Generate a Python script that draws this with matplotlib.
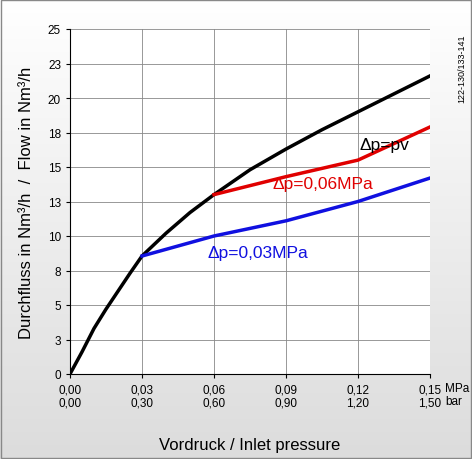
import matplotlib
matplotlib.use("Agg")
import matplotlib.pyplot as plt
import numpy as np

plt.rcParams['font.family'] = ['Liberation Sans', 'DejaVu Sans']

x_black = [0.0, 0.005, 0.01, 0.015, 0.02, 0.025, 0.03, 0.04, 0.05, 0.06, 0.075, 0.09, 0.105, 0.12, 0.135, 0.15]
y_black = [0.0, 1.6, 3.3, 4.7, 6.0, 7.3, 8.55, 10.2, 11.7, 13.0, 14.8, 16.3, 17.7, 19.0, 20.3, 21.6]
x_red = [0.06, 0.09, 0.12, 0.15]
y_red = [13.0, 14.3, 15.5, 17.9]
x_blue = [0.03, 0.06, 0.09, 0.12, 0.15]
y_blue = [8.55, 10.0, 11.1, 12.5, 14.2]
xticks = [0.0, 0.03, 0.06, 0.09, 0.12, 0.15]
xlabels = ["0,00\n0,00", "0,03\n0,30", "0,06\n0,60", "0,09\n0,90", "0,12\n1,20", "0,15\n1,50"]
yticks = [0, 2.5, 5, 7.5, 10, 12.5, 15, 17.5, 20, 22.5, 25]
ylabels = ["0", "3", "5", "8", "10", "13", "15", "18", "20", "23", "25"]

fig = plt.figure(figsize=(4.72, 4.60), dpi=100)
bg = fig.add_axes([0, 0, 1, 1], zorder=-10)
grad = np.linspace(1, 0, 256).reshape(-1, 1)
bg.imshow(grad, aspect="auto", cmap=matplotlib.colors.LinearSegmentedColormap.from_list("g", ["#dcdcdc", "#ffffff"]), extent=[0, 1, 0, 1])
bg.set_axis_off()
fig.patches.append(plt.Rectangle((0.002, 0.002), 0.996, 0.996, transform=fig.transFigure, fill=False, ec="#888888", lw=1))

ax = fig.add_axes([70/472, 1-375/460, 360/472, 345/460])
ax.set_facecolor("white")
ax.plot(x_black, y_black, color="black", lw=2.5)
ax.plot(x_red, y_red, color="#e00000", lw=2.5)
ax.plot(x_blue, y_blue, color="#1010e0", lw=2.5)
ax.set_xlim(0, 0.15); ax.set_ylim(0, 25)
ax.set_xticks(xticks); ax.set_xticklabels(xlabels, fontsize=8.5)
ax.set_yticks(yticks); ax.set_yticklabels(ylabels, fontsize=8.5)
ax.grid(color="#888888", lw=0.6)
for s in ["top", "right"]:
    ax.spines[s].set_visible(False)
ax.tick_params(length=3)
ax.text(0.1205, 16.6, "Δp=pv", fontsize=12.5, va="center")
ax.text(0.0845, 13.8, "Δp=0,06MPa", fontsize=12.5, color="#e00000", va="center")
ax.text(0.0575, 8.8, "Δp=0,03MPa", fontsize=12.5, color="#1010e0", va="center")
fig.text(445/472, 1-389/460, "MPa", fontsize=8.5, va="center")
fig.text(445/472, 1-402/460, "bar", fontsize=8.5, va="center")
ax.set_xlabel("Vordruck / Inlet pressure", fontsize=12, labelpad=20)
ax.set_ylabel("Durchfluss in Nm³/h  /  Flow in Nm³/h", fontsize=12, labelpad=10)
fig.text(462/472, 0.85, "122-130/133-141", rotation=90, fontsize=6.5, ha="center", va="center")
fig.savefig("out.png", dpi=100)
